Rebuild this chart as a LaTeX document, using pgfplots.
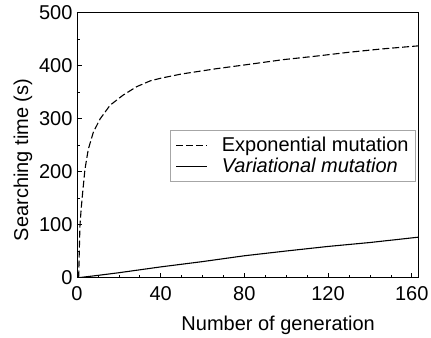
\documentclass[border=0pt]{standalone}
\usepackage{fontspec}
\setmainfont{Liberation Sans}
\usepackage{pgfplots}
\pgfplotsset{compat=1.18}
\newcommand{\fs}{\fontsize{20bp}{23bp}\selectfont}
\begin{document}
\begin{tikzpicture}
\begin{axis}[
  scale only axis,
  width=341bp, height=265bp,
  xmin=0, xmax=163, ymin=0, ymax=500,
  xtick={0,40,80,120,160},
  ytick={0,100,200,300,400,500},
  minor x tick num=3,
  minor y tick num=1,
  xtick pos=bottom, ytick pos=left,
  tick align=inside,
  major tick length=5bp, minor tick length=3bp,
  axis line style={line width=0.8bp},
  every tick/.style={line width=0.6bp, black},
  /pgf/number format/assume math mode=true,
  tick label style={font=\fs},
  xticklabel style={yshift=-6bp},
  yticklabel style={xshift=-1bp},
  label style={font=\fs},
  xlabel={Number of generation},
  ylabel={Searching time (s)},
  xlabel style={at={(0.59,0)}, anchor=north, yshift=-35bp},
  ylabel style={at={(ticklabel cs:0.451)}, anchor=south, xshift=-2bp},
  legend style={at={(0.994,0.557)}, anchor=north east, font=\fs,
    draw=gray!70, line width=0.6bp, inner xsep=5bp, inner ysep=5bp,
    row sep=1bp},
  legend cell align=left,
  legend image code/.code={\draw[#1] (0bp,0bp) -- (31bp,0bp);},
]
\addplot[black, line width=1.1bp, dash pattern=on 7bp off 3bp] coordinates {
(0.8,0) (1.1,50) (1.4,97) (2,130) (2.7,160) (3.8,204) (5.4,242) (7.8,274)
(11,299) (15.8,325) (22,344) (28.5,360) (35,371) (40,376) (50,384)
(66.7,394) (80,401) (98.5,411) (115,418) (130,425) (145,431) (163,437)
};
\addlegendentry{\hspace{12bp}Exponential mutation}
\addplot[black, line width=1.1bp] coordinates {
(1.5,0) (10,4) (20,9) (40,20) (60,30) (80,41) (100,50) (120,58.6) (140,66) (163,76)
};
\addlegendentry{\hspace{12bp}\textit{Variational mutation}}
\end{axis}
\pgfresetboundingbox
\useasboundingbox (-77bp,-60.5bp) rectangle (354bp,277.5bp);
\end{tikzpicture}
\end{document}
